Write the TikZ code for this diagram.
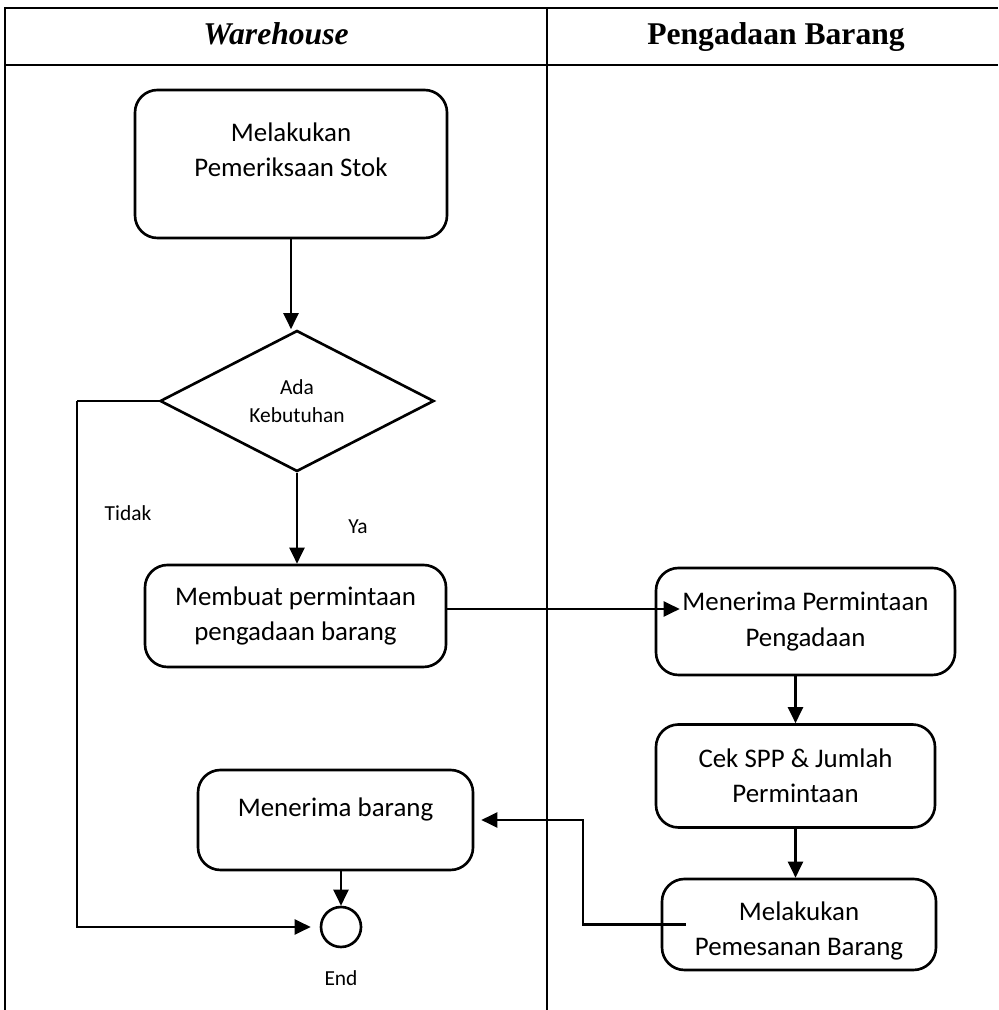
\documentclass[tikz,border=0pt]{standalone}
\usepackage{fontspec}
\setmainfont{Carlito}
\newfontfamily\judul{Liberation Serif}
\usetikzlibrary{arrows.meta,shapes.geometric}

\tikzset{
	kotak/.style={draw, line width=1.5pt, rounded corners=0.45cm, align=center, inner sep=0pt, font=\fontsize{15.3}{20}\selectfont},
	alir/.style={line width=1.4pt, -{Triangle[length=0.32cm,width=0.3cm]}},
	kecil/.style={align=center, font=\fontsize{12.2}{16}\selectfont},
	kepala/.style={anchor=base, font=\judul\fontsize{18}{20}\selectfont\bfseries}
}

\begin{document}
\begin{tikzpicture}
	\useasboundingbox (0,0) rectangle (19.96,20.2);

	%Tabel dan kolom
	\draw[line width=1.6pt] (0.1,0) -- (0.1,20.04) -- (19.96,20.04);
	\draw[line width=1.6pt] (0.1,18.9) -- (19.96,18.9);
	\draw[line width=1.6pt] (10.94,0) -- (10.94,20.04);
	\node[kepala] (hwh) at (5.52,19.3) {\itshape Warehouse};
	\node[kepala] (hpb) at (15.52,19.3) {Pengadaan Barang};

	%Kolom Warehouse
	\node[kotak, minimum width=6.24cm, minimum height=2.96cm, text depth=0.56cm] (cek) at (5.82,16.92) {Melakukan\\Pemeriksaan Stok};
	\node[diamond, draw, line width=1.5pt, minimum width=5.48cm, minimum height=2.82cm, inner sep=0pt, kecil] (butuh) at (5.94,12.18) {Ada\\Kebutuhan};
	\node[kotak, minimum width=6.02cm, minimum height=2.04cm] (minta) at (5.91,7.88) {Membuat permintaan\\pengadaan barang};
	\node[kotak, minimum width=5.5cm, minimum height=2cm, text depth=0.5cm] (barang) at (6.71,3.8) {Menerima barang};
	\node[circle, draw, line width=1.5pt, minimum size=0.8cm, inner sep=0pt] (akhir) at (6.82,1.66) {};
	\node[kecil] (lend) at (6.82,0.64) {End};
	\node[kecil] (ltidak) at (2.56,9.94) {Tidak};
	\node[kecil] (lya) at (7.16,9.66) {Ya};

	%Kolom Pengadaan Barang
	\node[kotak, minimum width=5.98cm, minimum height=2.14cm] (terima) at (16.11,7.77) {Menerima Permintaan\\Pengadaan};
	\node[kotak, minimum width=5.58cm, minimum height=2.06cm] (spp) at (15.91,4.68) {Cek SPP \& Jumlah\\Permintaan};
	\node[kotak, minimum width=5.48cm, minimum height=1.82cm, text height=1.33cm] (pesan) at (15.98,1.71) {Melakukan\\Pemesanan Barang};

	%Alur
	\draw[alir] (cek.south) -- (cek.south |- butuh.north);
	\draw[alir] (butuh.south) -- (butuh.south |- minta.north);
	\coordinate (belok) at (1.54,12.18);
	\draw[line width=0.7pt] (butuh.west) -- (belok);
	\draw[alir, shorten >=0.18cm] (belok) |- (akhir.west);
	\draw[alir] ([yshift=0.14cm]minta.east) -- ([xshift=0.5cm,yshift=0.14cm]minta.east -| terima.west);
	\draw[alir] (spp.north |- terima.south) -- (spp.north);
	\draw[alir] (spp.south) -- (spp.south |- pesan.north);
	\coordinate (naik) at (11.66,3.8);
	\draw[alir, shorten >=0.14cm] ([xshift=0.5cm]pesan.west) -| (naik) -- (barang.east);
	\draw[alir] (akhir.north |- barang.south) -- (akhir.north);
\end{tikzpicture}
\end{document}
